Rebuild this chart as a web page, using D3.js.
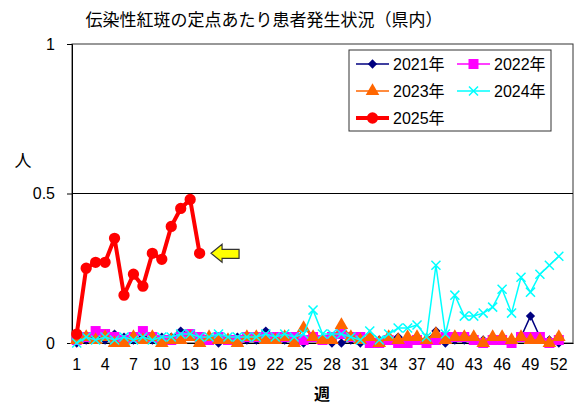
<!DOCTYPE html>
<html>
<head>
<meta charset="utf-8">
<script src="https://cdn.jsdelivr.net/npm/d3@7"></script>
<style>
  body { margin: 0; background: #fff; }
  svg { display: block; font-family: "Liberation Sans", "Noto Sans CJK JP", sans-serif; }
</style>
</head>
<body>
<div id="chart"></div>
<script>
// weeks on the category axis (53 slots, labels every 3)
const weeks = d3.range(1, 54);
const tickWeeks = [1, 4, 7, 10, 13, 16, 19, 22, 25, 28, 31, 34, 37, 40, 43, 46, 49, 52];
const yTicks = [0, 0.5, 1];

const v2021 = [0.00, 0.01, 0.02, 0.01, 0.03, 0.02, 0.01, 0.02, 0.01, 0.02, 0.02, 0.04, 0.03, 0.02, 0.01, 0.00, 0.01, 0.02, 0.01, 0.01,
  0.04, 0.02, 0.01, 0.01, 0.00, 0.02, 0.01, 0.00, 0.00, 0.01, 0.00, 0.01, 0.01, 0.01, 0.02, 0.01, 0.02, 0.01, 0.04, 0.00,
  0.01, 0.01, 0.01, 0.01, 0.01, 0.01, 0.01, 0.02, 0.09, 0.02, 0.01, 0.00];
const v2022 = [0.01, 0.02, 0.04, 0.03, 0.02, 0.01, 0.02, 0.04, 0.02, 0.01, 0.01, 0.02, 0.03, 0.02, 0.01, 0.02, 0.01, 0.01, 0.02, 0.02,
  0.02, 0.02, 0.02, 0.02, 0.01, 0.02, 0.01, 0.02, 0.03, 0.02, 0.02, 0.00, 0.00, 0.01, 0.00, 0.00, 0.01, 0.00, 0.01, 0.02,
  0.02, 0.02, 0.01, 0.00, 0.01, 0.01, 0.00, 0.02, 0.02, 0.02, 0.00, 0.01];
const v2023 = [0.01, 0.02, 0.01, 0.02, 0.00, 0.00, 0.02, 0.01, 0.02, 0.00, 0.01, 0.01, 0.02, 0.00, 0.02, 0.01, 0.01, 0.00, 0.02, 0.02,
  0.01, 0.01, 0.02, 0.00, 0.05, 0.02, 0.01, 0.01, 0.06, 0.02, 0.01, 0.02, 0.00, 0.02, 0.01, 0.02, 0.02, 0.01, 0.03, 0.01,
  0.02, 0.02, 0.02, 0.00, 0.02, 0.02, 0.01, 0.02, 0.01, 0.01, 0.00, 0.02];
const v2024 = [0.00, 0.02, 0.01, 0.02, 0.01, 0.02, 0.01, 0.02, 0.01, 0.02, 0.02, 0.03, 0.03, 0.02, 0.02, 0.03, 0.02, 0.02, 0.02, 0.02,
  0.03, 0.02, 0.03, 0.02, 0.03, 0.11, 0.03, 0.03, 0.03, 0.02, 0.01, 0.04, 0.01, 0.03, 0.05, 0.05, 0.06, 0.02, 0.26, 0.03,
  0.16, 0.09, 0.09, 0.10, 0.12, 0.18, 0.10, 0.22, 0.17, 0.23, 0.26, 0.29];
const v2025 = [0.03, 0.25, 0.27, 0.27, 0.35, 0.16, 0.23, 0.19, 0.30, 0.28, 0.39, 0.45, 0.48, 0.30];

const seriesNames = ["2021年", "2022年", "2023年", "2024年", "2025年"];

const width = 575, height = 405;
const plot = { left: 72, right: 573, top: 44, bottom: 343 };

const svg = d3.select("#chart").append("svg")
  .attr("width", width)
  .attr("height", height);

const x = d3.scaleBand()
  .domain(weeks)
  .range([plot.left, plot.right]);

const y = d3.scaleLinear()
  .domain([0, 1])
  .range([plot.bottom, plot.top]);

const cx = w => x(w) + x.bandwidth() / 2;

// title
svg.append("text")
  .attr("x", 264)
  .attr("y", 26)
  .attr("text-anchor", "middle")
  .style("font-size", "17px")
  .style("font-family", "'Noto Sans CJK JP', sans-serif")
  .text("伝染性紅斑の定点あたり患者発生状況（県内）");

// plot frame
svg.append("rect")
  .attr("x", plot.left)
  .attr("y", plot.top)
  .attr("width", plot.right - plot.left)
  .attr("height", plot.bottom - plot.top)
  .attr("fill", "none")
  .attr("stroke", "#333")
  .attr("stroke-width", 1);

// gridline at 0.5
svg.append("line")
  .attr("x1", plot.left).attr("x2", plot.right)
  .attr("y1", y(0.5)).attr("y2", y(0.5))
  .attr("stroke", "#000")
  .attr("stroke-width", 1);

// y axis
const yAxis = svg.append("g")
  .attr("transform", `translate(${plot.left},0)`)
  .call(d3.axisLeft(y).tickValues(yTicks).tickFormat(d3.format("")).tickSize(5).tickPadding(12));
yAxis.select(".domain").attr("stroke", "#000");
yAxis.selectAll("text").style("font-size", "16px").style("font-family", "'Liberation Sans', sans-serif").attr("fill", "#000");

// x axis
const xAxis = svg.append("g")
  .attr("transform", `translate(0,${plot.bottom})`)
  .call(d3.axisBottom(x).tickValues(tickWeeks).tickSize(0).tickPadding(16));
xAxis.select(".domain").attr("stroke", "#000");
xAxis.selectAll("text").style("font-size", "16px").style("font-family", "'Liberation Sans', sans-serif").attr("fill", "#000");

// axis titles
svg.append("text")
  .attr("x", 23).attr("y", 167)
  .attr("text-anchor", "middle")
  .style("font-size", "17px")
  .style("font-family", "'Noto Sans CJK JP', sans-serif")
  .text("人");

svg.append("text")
  .attr("x", 322).attr("y", 400)
  .attr("text-anchor", "middle")
  .style("font-size", "16px")
  .style("font-weight", "bold")
  .style("font-family", "'Noto Sans CJK JP', sans-serif")
  .text("週");

// series drawing
const styles = [
  { data: v2021, color: "#000080", width: 1.5, symbol: d3.symbolDiamond2, size: 55, stroke: false },
  { data: v2022, color: "#FF00FF", width: 1.5, symbol: d3.symbolSquare, size: 100, stroke: false },
  { data: v2023, color: "#FF6600", width: 1.5, symbol: d3.symbolTriangle, size: 80, stroke: false },
  { data: v2024, color: "#00FFFF", width: 1.5, symbol: d3.symbolX, size: 55, stroke: true },
  { data: v2025, color: "#FF0000", width: 4, symbol: d3.symbolCircle, size: 100, stroke: false }
];

const line = d3.line()
  .x((d, i) => cx(weeks[i]))
  .y(d => y(d));

styles.forEach((s, si) => {
  const g = svg.append("g").attr("class", "series-" + si);
  g.append("path")
    .datum(s.data)
    .attr("fill", "none")
    .attr("stroke", s.color)
    .attr("stroke-width", s.width)
    .attr("stroke-linejoin", "round")
    .attr("d", line);
  g.selectAll("path.mark")
    .data(s.data)
    .join("path")
    .attr("class", "mark")
    .attr("transform", (d, i) => `translate(${cx(weeks[i])},${y(d)})`)
    .attr("d", d3.symbol(s.symbol, s.size))
    .attr("fill", s.stroke ? "none" : s.color)
    .attr("stroke", s.stroke ? s.color : "none")
    .attr("stroke-width", 1.5);
});

// yellow arrow pointing at the latest week
const tipX = cx(15) + 2, tipY = y(v2025[13]);
const arrow = [[0, 0], [11, -9], [11, -4], [28, -4], [28, 5], [11, 5], [11, 9]];
svg.append("path")
  .attr("d", d3.line()(arrow.map(p => [tipX + p[0], tipY + p[1]])) + "Z")
  .attr("fill", "#FFFF00")
  .attr("stroke", "#333")
  .attr("stroke-width", 1.2);

// legend
const legend = svg.append("g");
legend.append("rect")
  .attr("x", 349).attr("y", 50)
  .attr("width", 202).attr("height", 81)
  .attr("fill", "#fff")
  .attr("stroke", "#333");

const legendPos = [[356, 64], [457, 64], [356, 91], [457, 91], [356, 118]];
styles.forEach((s, i) => {
  const [lx, ly] = legendPos[i];
  const item = legend.append("g");
  item.append("line")
    .attr("x1", lx).attr("x2", lx + 33)
    .attr("y1", ly).attr("y2", ly)
    .attr("stroke", s.color)
    .attr("stroke-width", s.width);
  item.append("path")
    .attr("transform", `translate(${lx + 16.5},${ly})`)
    .attr("d", d3.symbol(s.symbol, s.size))
    .attr("fill", s.stroke ? "none" : s.color)
    .attr("stroke", s.stroke ? s.color : "none")
    .attr("stroke-width", 1.5);
  item.append("text")
    .attr("x", lx + 37).attr("y", ly + 6)
    .style("font-size", "16px")
    .text(seriesNames[i]);
});
</script>
</body>
</html>
